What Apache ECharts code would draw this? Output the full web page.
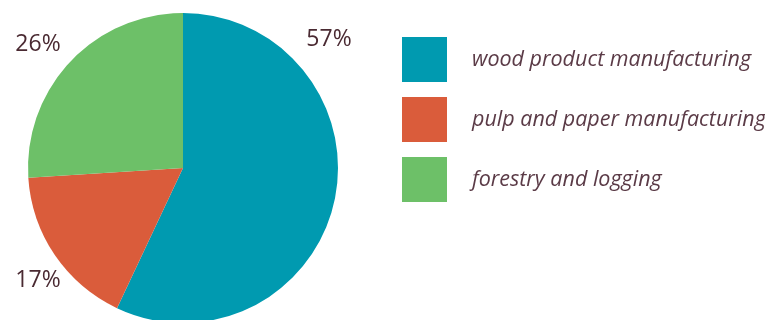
<!DOCTYPE html>
<html>
<head>
<meta charset="utf-8">
<script src="https://cdn.jsdelivr.net/npm/echarts@6/dist/echarts.min.js"></script>
<style>
  html, body { margin: 0; padding: 0; background: #fff; }
  #chart { width: 765px; height: 320px; }
</style>
</head>
<body>
<div id="chart"></div>
<script>
const categories = ['wood product manufacturing', 'pulp and paper manufacturing', 'forestry and logging']
const shares = [57, 17, 26]
const colors = ['#009ab0', '#da5c3b', '#6dc068']

const chart = echarts.init(document.getElementById('chart'))

// where each percent label sits
const labelSpots = [[329, 39], [38, 280], [38, 44]]

chart.setOption({
  animation: false,
  color: colors,
  legend: {
    orient: 'vertical',
    left: 402,
    top: 37,
    padding: 0,
    itemWidth: 45,
    itemHeight: 45,
    itemGap: 15,
    icon: 'rect',
    selectedMode: false,
    itemStyle: { borderWidth: 0 },
    textStyle: {
      fontFamily: 'Open Sans',
      fontStyle: 'italic',
      fontSize: 21.5,
      color: '#5b3b47',
      padding: [2, 0, 0, 20]
    },
    data: categories
  },
  series: [
    {
      type: 'pie',
      center: [183, 168],
      radius: [0, 155],
      startAngle: 90,
      clockwise: true,
      emphasis: { disabled: true },
      itemStyle: { borderWidth: 0 },
      label: {
        show: true,
        position: 'inside',
        formatter: '{c}%',
        fontFamily: 'Open Sans',
        fontSize: 23,
        color: '#4a2a32',
        overflow: 'none'
      },
      labelLine: { show: false },
      labelLayout: function (params) {
        const p = labelSpots[params.dataIndex]
        return { x: p[0], y: p[1], align: 'center', verticalAlign: 'middle' }
      },
      data: categories.map((name, i) => ({ name: name, value: shares[i] }))
    }
  ]
})
</script>
</body>
</html>
